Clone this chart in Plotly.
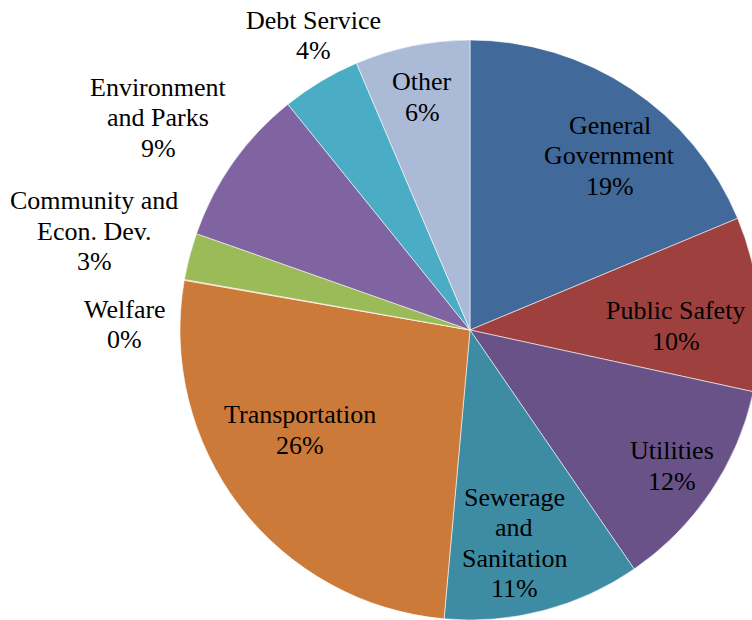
import math
import plotly.graph_objects as go

categories = ["General<br>Government", "Public Safety", "Utilities", "Sewerage<br>and<br>Sanitation",
              "Transportation", "Welfare", "Community and<br>Econ. Dev.", "Environment<br>and Parks",
              "Debt Service", "Other"]
shares = [18.7, 9.7, 12.0, 11.0, 26.3, 0.05, 2.6, 8.8, 4.4, 6.4]
colors = ["#416A9B", "#9E413E", "#685288", "#3D8CA4", "#CC7A39", "#F79646",
          "#9BBB59", "#8064A2", "#4BACC6", "#AABAD7"]

# label placement style: radial factor (of radius) and angular nudge (degrees)
label_radius = [0.77, 0.71, 0.84, 0.75, 0.68, 1.19, 1.34, 1.30, 1.15, 0.82]
label_nudge = [5, 4, 0, 3, 7, -9, 0, -1, 3, 0]

W, H = 760, 620               # slightly wider than the window: the pie runs off the right edge
PIE_CX, PIE_CY, PIE_R = 470, 330, 290
FONT = "Liberation Serif, Times New Roman, DejaVu Serif, serif"
LINE = 30.5

dom_x = [(PIE_CX - PIE_R) / W, min(1.0, (PIE_CX + PIE_R) / W)]
dom_y = [max(0.0, 1 - (PIE_CY + PIE_R) / H), 1 - (PIE_CY - PIE_R) / H]

fig = go.Figure(go.Pie(
    labels=categories,
    values=shares,
    sort=False,
    direction="clockwise",
    rotation=0,
    marker=dict(colors=colors, line=dict(color="rgba(255,255,255,0.8)", width=0.7)),
    textinfo="none",
    domain=dict(x=dom_x, y=dom_y),
    showlegend=False,
    hoverinfo="label+percent",
))

total = sum(shares)
cum = 0.0
annotations = []
for lab, v, f, nud in zip(categories, shares, label_radius, label_nudge):
    mid = (cum + v / 2) / total * 360 + nud
    cum += v
    th = math.radians(mid)
    px = PIE_CX + f * PIE_R * math.sin(th)
    py = PIE_CY - f * PIE_R * math.cos(th)
    lines = lab.split("<br>") + [f"{round(v / total * 100):d}%"]
    n = len(lines)
    for i, t in enumerate(lines):
        annotations.append(dict(
            x=px / W, y=1 - py / H, xref="paper", yref="paper",
            text=t, showarrow=False, xanchor="center", yanchor="middle",
            yshift=((n - 1) / 2 - i) * LINE, borderpad=0,
            font=dict(family=FONT, size=26, color="black"),
        ))

fig.update_layout(
    width=W, height=H,
    margin=dict(l=0, r=0, t=0, b=0),
    paper_bgcolor="white",
    plot_bgcolor="white",
    annotations=annotations,
)

fig.write_html(
    "out.html",
    config={"displayModeBar": False},
    post_script="document.body.style.margin='0';document.documentElement.style.overflow='hidden';document.body.style.overflow='hidden';",
)
